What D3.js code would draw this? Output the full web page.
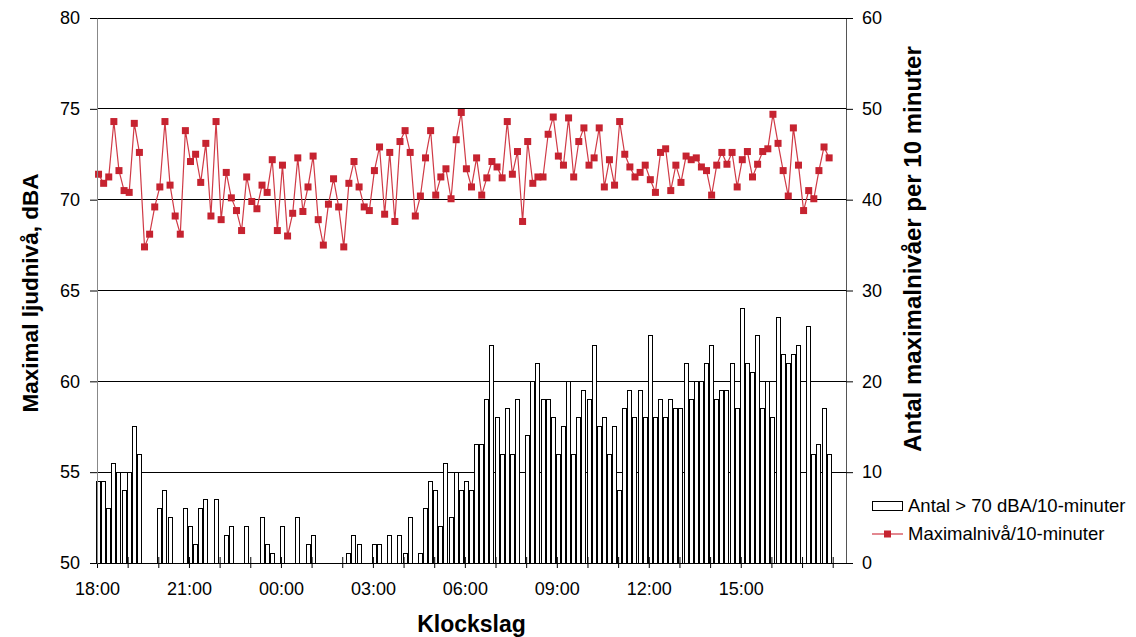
<!DOCTYPE html>
<html>
<head>
<meta charset="utf-8">
<script src="https://cdn.jsdelivr.net/npm/d3@7/dist/d3.min.js"></script>
<style>
body { margin: 0; background: #fff; }
svg { font-family: Arial, "Liberation Sans", sans-serif; }
</style>
</head>
<body>
<div id="chart"></div>
<script>
// Maximal ljudnivå och antal maxnivåer > 70 dBA per 10-minutersintervall, 18:00 - 17:50

// antal maximalnivåer > 70 dBA per 10 minuter (höger axel)
const antalOver70 = [
  9, 9, 6, 11, 10, 8, 10, 15, 12, 0, 0, 0, 6, 8, 5, 0, 0, 6, 4, 2, 6, 7, 0, 7, 0, 3, 4, 0, 0, 4,
  0, 0, 5, 2, 1, 0, 4, 0, 0, 5, 0, 2, 3, 0, 0, 0, 0, 0, 0, 1, 3, 2, 0, 0, 2, 2, 0, 3, 0, 3,
  1, 5, 0, 1, 6, 9, 8, 4, 11, 5, 10, 8, 9, 8, 13, 13, 18, 24, 16, 12, 17, 12, 18, 0, 14, 20, 22, 18, 18, 16,
  12, 15, 20, 12, 16, 19, 18, 24, 15, 16, 12, 15, 8, 17, 19, 16, 19, 16, 25, 16, 18, 16, 18, 17, 17, 22, 18, 20, 20, 22,
  24, 18, 19, 19, 22, 17, 28, 22, 21, 25, 17, 20, 16, 27, 23, 22, 23, 24, 0, 26, 12, 13, 17, 12
];

// maximal ljudnivå per 10 minuter, dBA (vänster axel)
const maxNiva = [
  71.4, 70.9, 71.25, 74.3, 71.6, 70.5, 70.4, 74.2, 72.6, 67.4, 68.1, 69.6, 70.7, 74.3, 70.8, 69.1, 68.1, 73.8, 72.1, 72.5,
  70.95, 73.1, 69.1, 74.3, 68.9, 71.5, 70.1, 69.4, 68.3, 71.25, 69.9, 69.5, 70.8, 70.4, 72.2, 68.3, 71.9, 68.0, 69.25, 72.3,
  69.35, 70.7, 72.4, 68.9, 67.5, 69.75, 71.15, 69.6, 67.4, 70.9, 72.1, 70.7, 69.6, 69.4, 71.6, 72.9, 69.2, 72.6, 68.8, 73.2,
  73.8, 72.6, 69.1, 70.2, 72.3, 73.8, 70.25, 71.25, 71.7, 70.05, 73.3, 74.8, 71.7, 70.7, 72.3, 70.25, 71.2, 72.1, 71.8, 71.2,
  74.3, 71.4, 72.65, 68.8, 73.2, 70.9, 71.25, 71.25, 73.6, 74.55, 72.4, 71.9, 74.5, 71.25, 73.2, 73.95, 71.9, 72.3, 73.95, 70.7,
  72.2, 70.8, 74.3, 72.5, 71.8, 71.25, 71.5, 71.9, 71.1, 70.4, 72.6, 72.8, 70.5, 71.9, 70.95, 72.4, 72.2, 72.3, 71.8, 71.6,
  70.25, 71.9, 72.6, 71.95, 72.6, 70.7, 72.2, 72.65, 71.25, 71.95, 72.65, 72.8, 74.7, 73.1, 71.6, 70.2, 73.95, 71.9, 69.4, 70.5,
  70.05, 71.6, 72.9, 72.3
];

const timeLabels = ["18:00", "21:00", "00:00", "03:00", "06:00", "09:00", "12:00", "15:00"];
const leftTicks = [50, 55, 60, 65, 70, 75, 80];
const rightTicks = [0, 10, 20, 30, 40, 50, 60];

const width = 1136;
const height = 637;
const margin = {top: 18, right: 290, bottom: 74, left: 97};
const innerWidth = width - margin.left - margin.right;
const innerHeight = height - margin.top - margin.bottom;

// minuter efter 18:00, mittpunkt i varje intervall
const minuteOf = i => i * 10 + 3;

const data = maxNiva.map((v, i) => ({m: minuteOf(i), niva: v, antal: antalOver70[i]}));

const svg = d3.select("#chart")
  .append("svg")
  .attr("width", width)
  .attr("height", height);

const inner = svg.append("g")
  .attr("transform", `translate(${margin.left}, ${margin.top})`);

const x = d3.scaleLinear()
  .domain([0, 1466])
  .range([0, innerWidth]);

const yLeft = d3.scaleLinear()
  .domain([50, 80])
  .range([innerHeight, 0]);

const yRight = d3.scaleLinear()
  .domain([0, 60])
  .range([innerHeight, 0]);

// stödlinjer
inner.append("g")
  .selectAll("line")
  .data(leftTicks.filter(d => d > 50))
  .join("line")
  .attr("x1", 0)
  .attr("x2", innerWidth)
  .attr("y1", d => yLeft(d))
  .attr("y2", d => yLeft(d))
  .attr("stroke", "#000")
  .attr("stroke-width", 1)
  .attr("shape-rendering", "crispEdges");

// staplar
inner.append("g")
  .selectAll("rect")
  .data(data.filter(d => d.antal > 0))
  .join("rect")
  .attr("x", d => x(d.m) - 2)
  .attr("y", d => yRight(d.antal))
  .attr("width", 4)
  .attr("height", d => innerHeight - yRight(d.antal))
  .attr("fill", "#fff")
  .attr("stroke", "#000")
  .attr("stroke-width", 1)
  .attr("shape-rendering", "crispEdges");

// linje
const line = d3.line()
  .x(d => x(d.m))
  .y(d => yLeft(d.niva));

inner.append("path")
  .datum(data)
  .attr("d", line)
  .attr("fill", "none")
  .attr("stroke", "#d03a46")
  .attr("stroke-width", 1.2);

inner.append("g")
  .selectAll("rect")
  .data(data)
  .join("rect")
  .attr("x", d => x(d.m) - 3.5)
  .attr("y", d => yLeft(d.niva) - 3.5)
  .attr("width", 7)
  .attr("height", 7)
  .attr("fill", "#c62330");

// axlar
const hours = d3.range(0, 1441, 60);
const xAxis = inner.append("g")
  .attr("transform", `translate(0, ${innerHeight})`)
  .call(d3.axisBottom(x)
    .tickValues(hours)
    .tickSize(5)
    .tickPadding(14)
    .tickFormat(d => (d % 180 === 0 && d / 180 < timeLabels.length) ? timeLabels[d / 180] : ""));
xAxis.selectAll(".tick line").attr("y1", -6);
xAxis.selectAll(".tick text").filter(function() { return this.textContent === ""; }).remove();
xAxis.select(".domain").attr("d", `M0,0.5H${innerWidth}`);

const leftAxis = inner.append("g")
  .call(d3.axisLeft(yLeft).tickValues(leftTicks).tickSize(7).tickPadding(10).tickSizeOuter(0));
leftAxis.select(".domain").attr("stroke", "#888");

const rightAxis = inner.append("g")
  .attr("transform", `translate(${innerWidth}, 0)`)
  .call(d3.axisRight(yRight).tickValues(rightTicks).tickSize(7).tickPadding(9).tickSizeOuter(0));
rightAxis.select(".domain").attr("stroke", "#555");

svg.selectAll(".tick text")
  .attr("font-size", 18)
  .attr("font-family", "Arial, 'Liberation Sans', sans-serif")
  .attr("fill", "#000");

// axeltitlar
svg.append("text")
  .attr("transform", `translate(30, 293) rotate(-90)`)
  .attr("text-anchor", "middle")
  .attr("dy", "0.35em")
  .attr("font-size", 22.5)
  .attr("font-weight", "bold")
  .text("Maximal ljudnivå, dBA");

svg.append("text")
  .attr("transform", `translate(913, 249) rotate(-90)`)
  .attr("text-anchor", "middle")
  .attr("dy", "0.35em")
  .attr("font-size", 24)
  .attr("font-weight", "bold")
  .text("Antal maximalnivåer per 10 minuter");

svg.append("text")
  .attr("x", margin.left + innerWidth / 2)
  .attr("y", 632)
  .attr("text-anchor", "middle")
  .attr("font-size", 23)
  .attr("font-weight", "bold")
  .text("Klockslag");

// förklaring
const legend = svg.append("g").attr("transform", "translate(872, 506)");
legend.append("rect")
  .attr("x", 0.5).attr("y", -4.5)
  .attr("width", 30).attr("height", 9)
  .attr("fill", "#fff").attr("stroke", "#000");
legend.append("text")
  .attr("x", 36).attr("dy", "0.35em")
  .attr("font-size", 18.5)
  .text("Antal > 70 dBA/10-minuter");

legend.append("line")
  .attr("x1", 0).attr("x2", 31)
  .attr("y1", 28).attr("y2", 28)
  .attr("stroke", "#d03a46").attr("stroke-width", 1.2);
legend.append("rect")
  .attr("x", 15.5 - 3.5).attr("y", 28 - 3.5)
  .attr("width", 7).attr("height", 7)
  .attr("fill", "#c62330");
legend.append("text")
  .attr("x", 36).attr("y", 28).attr("dy", "0.35em")
  .attr("font-size", 18.5)
  .text("Maximalnivå/10-minuter");
</script>
</body>
</html>
